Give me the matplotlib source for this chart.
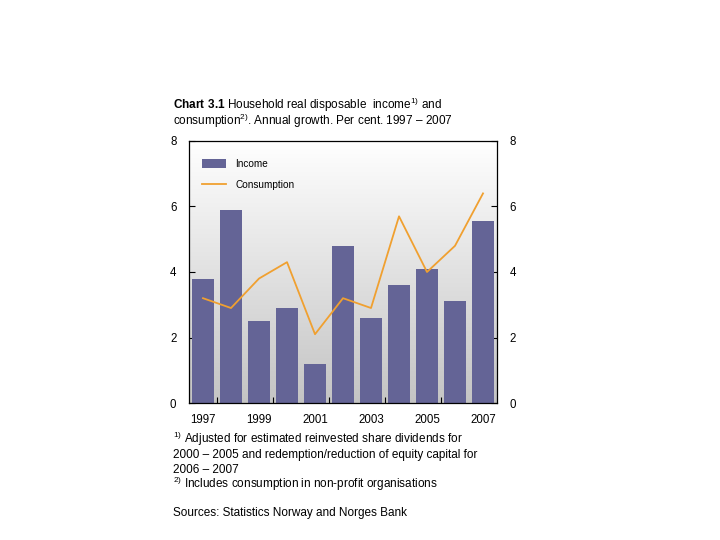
import numpy as np
import matplotlib
matplotlib.use('Agg')
import matplotlib.pyplot as plt

plt.rcParams['font.family'] = ['Liberation Sans', 'DejaVu Sans']
plt.rcParams['mathtext.fontset'] = 'custom'
plt.rcParams['mathtext.rm'] = 'Liberation Sans'
plt.rcParams['mathtext.bf'] = 'Liberation Sans:bold'

# datos
years = [1997, 1998, 1999, 2000, 2001, 2002, 2003, 2004, 2005, 2006, 2007]
income = [3.8, 5.9, 2.5, 2.9, 1.2, 4.8, 2.6, 3.6, 4.1, 3.1, 5.55]
consumption = [3.2, 2.9, 3.8, 4.3, 2.1, 3.2, 2.9, 5.7, 4.0, 4.8, 6.4]
yticks = [0, 2, 4, 6, 8]
xlabels = [1997, 1999, 2001, 2003, 2005, 2007]

bar_col = '#646496'
line_col = '#f0a030'

fig = plt.figure(figsize=(7.2, 5.4), dpi=100)
ax = fig.add_axes([0.2625, 0.2537, 0.4278, 0.4852])

# fondo degradado blanco -> gris
grad = np.linspace(1, 0, 256).reshape(-1, 1)
ax.imshow(grad, extent=[0, 1, 0, 1], transform=ax.transAxes, aspect='auto',
          cmap=matplotlib.colors.LinearSegmentedColormap.from_list('g', ['#c4c4c4', '#ffffff']),
          zorder=0)

b = ax.bar(years, income, width=0.76, color=bar_col, label='Income', zorder=2)
l, = ax.plot(years, consumption, color=line_col, lw=1.3, label='Consumption', zorder=3)

ax.set_xlim(1996.5, 2007.5)
ax.set_ylim(0, 8)
ax.set_yticks(yticks)
ax.set_xticks([y + 0.5 for y in range(1997, 2007, 2)])
ax.set_xticklabels([])
ax.set_xticks(xlabels, minor=True)
ax.set_xticklabels([str(x) for x in xlabels], minor=True, fontsize=8.3)
ax.tick_params(axis='x', which='minor', length=0, pad=8)
ax.tick_params(axis='x', which='major', direction='in', length=4, width=0.8)
ax.tick_params(axis='y', direction='in', length=4, width=0.8, labelsize=8.3,
               left=True, right=True, labelleft=True, labelright=True, pad=9)
for s in ax.spines.values():
    s.set_linewidth(0.9)

leg = ax.legend([b, l], ['Income', 'Consumption'], loc='upper left',
                bbox_to_anchor=(0.01, 0.97), frameon=False,
                fontsize=7.2, handlelength=2.4, handleheight=1.0, labelspacing=1.1,
                borderaxespad=0.6, handletextpad=0.9)

fig.text(0.2403, 0.799, r'$\mathbf{Chart\ 3.1}$' + ' Household real disposable  income$^{1)}$ and',
         fontsize=8.5, va='baseline')
fig.text(0.2403, 0.768, 'consumption$^{2)}$. Annual growth. Per cent. 1997 \u2013 2007',
         fontsize=8.5, va='baseline')

notes = [
    (0.180, '$^{1)}$ Adjusted for estimated reinvested share dividends for'),
    (0.152, '2000 \u2013 2005 and redemption/reduction of equity capital for'),
    (0.124, '2006 \u2013 2007'),
    (0.096, '$^{2)}$ Includes consumption in non-profit organisations'),
    (0.044, 'Sources: Statistics Norway and Norges Bank'),
]
for yy, t in notes:
    fig.text(0.2403, yy, t, fontsize=8.5, va='baseline')

fig.savefig('out.png', dpi=100)
